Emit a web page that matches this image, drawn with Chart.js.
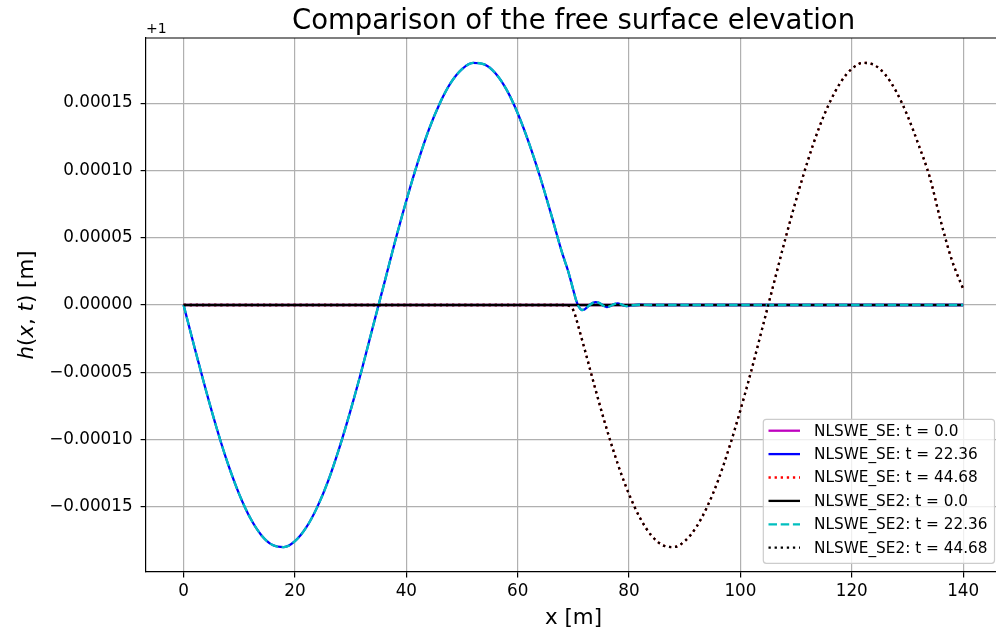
<!DOCTYPE html>
<html><head><meta charset="utf-8">
<script src="https://cdn.jsdelivr.net/npm/chart.js@4.4.0/dist/chart.umd.min.js"></script>
<style>html,body{margin:0;padding:0;background:#fff;overflow:hidden}#wrap{width:996px;height:633px}</style>
</head><body><div id="wrap"><canvas id="c" width="996" height="633"></canvas></div>
<script>
// ---- data ----
const xFlat = [0, 140];
const h_t0 = [0, 0];

const xGrid = [0,2,4,6,8,10,12,14,16,18,20,22,24,26,28,30,32,34,36,38,40,42,44,46,48,50,52,54,56,58,60,62,64,66,68,
  69,70,70.5,71,71.5,72,72.5,73,73.5,74,74.5,75,75.5,76,76.5,77,77.5,78,78.5,79,79.5,80,
  82,84,86,88,90,92,94,96,98,100,102,104,106,108,110,112,114,116,118,120,122,124,126,128,130,132,134,136,138,140];

const h_t22 = [0,-3.21e-5,-6.32e-5,-9.23e-5,-1.185e-4,-1.407e-4,-1.585e-4,-1.712e-4,-1.784e-4,-1.799e-4,-1.755e-4,-1.655e-4,-1.502e-4,-1.303e-4,-1.058e-4,-7.81e-5,-4.81e-5,-1.61e-5,1.55e-5,4.75e-5,7.75e-5,1.052e-4,1.298e-4,1.498e-4,1.652e-4,1.753e-4,1.799e-4,1.788e-4,1.722e-4,1.600e-4,1.425e-4,1.207e-4,9.55e-5,6.75e-5,3.85e-5,
  2.6e-5,1.1e-5,3.5e-6,-1.5e-6,-3.7e-6,-3.3e-6,-1.6e-6,2e-7,1.6e-6,2.2e-6,1.8e-6,6e-7,-8e-7,-1.5e-6,-1.0e-6,0,9e-7,1.2e-6,6e-7,-3e-7,-8e-7,-5e-7,
  2e-7,0,0,0,0,0,0,0,0,0,0,0,0,0,0,0,0,0,0,0,0,0,0,0,0,0,0,0,0,0];

const h_t44 = [0,0,0,0,0,0,0,0,0,0,0,0,0,0,0,0,0,0,0,0,0,0,0,0,0,0,0,0,0,0,0,0,0,0,0,
  -3e-7,-4e-6,-1.0e-5,-1.75e-5,-2.5e-5,-3.25e-5,-4.01e-5,-4.79e-5,-5.56e-5,-6.32e-5,-7.07e-5,-7.81e-5,-8.53e-5,-9.23e-5,-9.92e-5,-1.058e-4,-1.122e-4,-1.185e-4,-1.244e-4,-1.301e-4,-1.355e-4,-1.407e-4,
  -1.585e-4,-1.712e-4,-1.784e-4,-1.799e-4,-1.755e-4,-1.655e-4,-1.502e-4,-1.303e-4,-1.058e-4,-7.81e-5,-4.81e-5,-1.61e-5,1.61e-5,4.81e-5,7.81e-5,1.058e-4,1.303e-4,1.502e-4,1.655e-4,1.755e-4,1.799e-4,1.784e-4,1.712e-4,1.585e-4,1.407e-4,1.19e-4,9.5e-5,6.2e-5,3.3e-5,1.2e-5];

const seriesLabels = ["NLSWE_SE: t = 0.0","NLSWE_SE: t = 22.36","NLSWE_SE: t = 44.68",
                      "NLSWE_SE2: t = 0.0","NLSWE_SE2: t = 22.36","NLSWE_SE2: t = 44.68"];
const xTicks = [0,20,40,60,80,100,120,140];
const yTicks = [-0.00015,-0.0001,-0.00005,0,0.00005,0.0001,0.00015];
const yTickLabels = ["\u22120.00015","\u22120.00010","\u22120.00005","0.00000","0.00005","0.00010","0.00015"];
const titleText = "Comparison of the free surface elevation";
const offsetText = "+1";
const xLabel = "x [m]";

// ---- chart ----
const FONT = "'DejaVu Sans', sans-serif";
const toPts = (xs, ys) => xs.map((x, i) => ({x: x, y: ys[i]}));
const LW = 2.3;
const DOT = [2.3, 3.8];
const DASH = [8.5, 3.7];

function ds(i, xs, ys, color, dash) {
  return {
    label: seriesLabels[i], data: toPts(xs, ys), borderColor: color, backgroundColor: color,
    borderWidth: LW, borderDash: dash || [], pointRadius: 0, fill: false,
    cubicInterpolationMode: 'monotone', order: 5 - i
  };
}

const datasets = [
  ds(0, xFlat, h_t0, '#bf00bf'),
  ds(1, xGrid, h_t22, '#0000ff'),
  ds(2, xGrid, h_t44, '#ff0000', DOT),
  ds(3, xFlat, h_t0, '#000000'),
  ds(4, xGrid, h_t22, '#00bfbf', DASH),
  ds(5, xGrid, h_t44, '#000000', DOT)
];

const decor = {
  id: 'decor',
  afterDraw(chart) {
    const ctx = chart.ctx, a = chart.chartArea;
    ctx.save();
    // top spine
    ctx.strokeStyle = '#000'; ctx.lineWidth = 1.2;
    ctx.beginPath(); ctx.moveTo(a.left, a.top); ctx.lineTo(a.right, a.top); ctx.stroke();
    // title
    ctx.fillStyle = '#000';
    ctx.font = "27.5px " + FONT; ctx.textAlign = 'center'; ctx.textBaseline = 'alphabetic';
    ctx.fillText(titleText, 573.5, 29);
    // offset text
    ctx.font = "14px " + FONT; ctx.textAlign = 'left';
    ctx.fillText(offsetText, 146, 33);
    // x label
    ctx.font = "21.4px " + FONT; ctx.textAlign = 'center';
    ctx.fillText(xLabel, 573.5, 624);
    // y label with math italic parts
    const parts = [["h", true], ["(", false], ["x", true], [", ", false], ["t", true], [")", false], [" [m]", false]];
    const fs = 21.4;
    let total = 0;
    parts.forEach(p => { ctx.font = (p[1] ? "italic " : "") + fs + "px " + FONT; p.w = ctx.measureText(p[0]).width; total += p.w; });
    ctx.translate(33, 305); ctx.rotate(-Math.PI / 2);
    ctx.textAlign = 'left';
    let xx = -total / 2;
    parts.forEach(p => { ctx.font = (p[1] ? "italic " : "") + fs + "px " + FONT; ctx.fillText(p[0], xx, 0); xx += p.w; });
    ctx.restore();

    // legend
    ctx.save();
    const bx = 763.3, by = 419.3, bw = 994.5 - 763.3, bh = 563.3 - 419.3, r = 3;
    ctx.beginPath();
    ctx.moveTo(bx + r, by); ctx.lineTo(bx + bw - r, by); ctx.arcTo(bx + bw, by, bx + bw, by + r, r);
    ctx.lineTo(bx + bw, by + bh - r); ctx.arcTo(bx + bw, by + bh, bx + bw - r, by + bh, r);
    ctx.lineTo(bx + r, by + bh); ctx.arcTo(bx, by + bh, bx, by + bh - r, r);
    ctx.lineTo(bx, by + r); ctx.arcTo(bx, by, bx + r, by, r); ctx.closePath();
    ctx.fillStyle = 'rgba(255,255,255,0.8)'; ctx.fill();
    ctx.strokeStyle = '#cccccc'; ctx.lineWidth = 1.2; ctx.stroke();
    chart.data.datasets.forEach((d, i) => {
      const cy = 430.7 + i * 23.4;
      ctx.strokeStyle = d.borderColor; ctx.lineWidth = d.borderWidth; ctx.setLineDash(d.borderDash);
      ctx.lineCap = 'butt';
      ctx.beginPath(); ctx.moveTo(768.5, cy); ctx.lineTo(800, cy); ctx.stroke();
      ctx.setLineDash([]);
      ctx.fillStyle = '#000'; ctx.font = "15.3px " + FONT; ctx.textAlign = 'left'; ctx.textBaseline = 'middle';
      ctx.fillText(d.label, 814, cy + 1);
    });
    ctx.restore();
  }
};

new Chart(document.getElementById('c'), {
  type: 'line',
  data: { datasets: datasets },
  options: {
    responsive: false, animation: false, devicePixelRatio: 1,
    layout: { padding: { top: 38, left: 0, right: 0, bottom: 0 } },
    plugins: { legend: { display: false }, title: { display: false }, tooltip: { enabled: false } },
    scales: {
      x: {
        type: 'linear', min: -6.75, max: 145.9,
        afterBuildTicks: s => { s.ticks = xTicks.map(v => ({ value: v })); },
        afterFit: s => { s.height = 61; },
        ticks: { color: '#000', font: { family: FONT, size: 16.8 }, padding: 4, maxRotation: 0, autoSkip: false,
                 callback: v => String(v) },
        grid: { color: '#b0b0b0', lineWidth: 1.2, tickColor: '#000', tickLength: 5.4, tickWidth: 1.2 },
        border: { display: true, color: '#000', width: 1.2 }
      },
      y: {
        type: 'linear', min: -0.0001984, max: 0.0001984,
        afterBuildTicks: s => { s.ticks = yTicks.map(v => ({ value: v })); },
        afterFit: s => { s.width = 146; },
        ticks: { color: '#000', font: { family: FONT, size: 16.8 }, padding: 8, autoSkip: false,
                 callback: (v, i) => yTickLabels[i] },
        grid: { color: '#b0b0b0', lineWidth: 1.2, tickColor: '#000', tickLength: 5.4, tickWidth: 1.2 },
        border: { display: true, color: '#000', width: 1.2 }
      }
    }
  },
  plugins: [decor]
});
</script></body></html>
